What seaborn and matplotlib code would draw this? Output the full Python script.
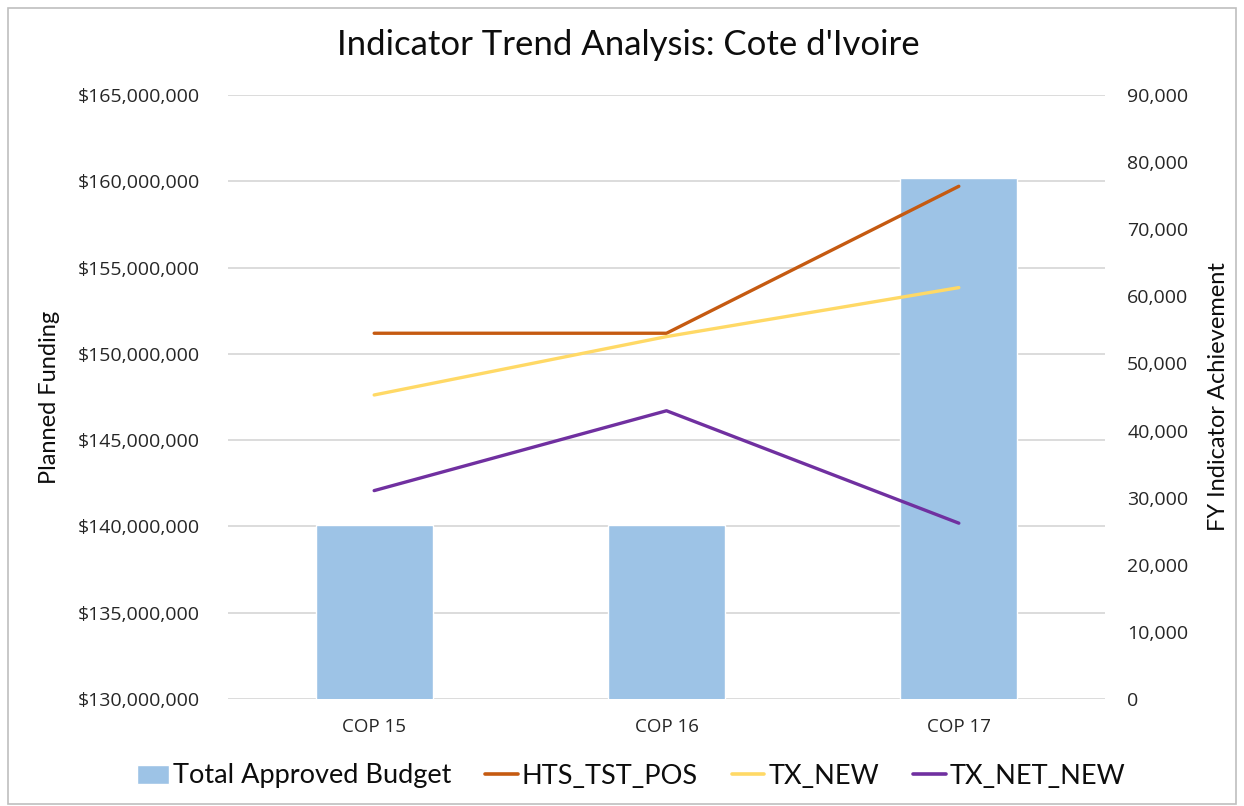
import matplotlib
matplotlib.use("Agg")
import matplotlib.pyplot as plt
import seaborn as sns
import pandas as pd
from matplotlib.ticker import FuncFormatter, MultipleLocator
from matplotlib.patches import Rectangle
from matplotlib.lines import Line2D

categories = ["COP 15", "COP 16", "COP 17"]
budget = [140_100_000, 140_100_000, 160_170_000]
hts_tst_pos = [54_500, 54_500, 76_400]
tx_new = [45_300, 54_000, 61_300]
tx_net_new = [31_050, 42_950, 26_200]

sns.set_style("white")
plt.rcParams['font.family'] = ['Lato', 'DejaVu Sans']

fig = plt.figure(figsize=(12.44, 8.06), dpi=100)
ax = fig.add_axes([228/1244, 1-699/806, (1105-228)/1244, (699-95)/806])
ax2 = ax.twinx()

df = pd.DataFrame({"cat": categories, "budget": budget})
sns.barplot(data=df, x="cat", y="budget", ax=ax, color="#9DC3E6", width=0.4,
            saturation=1, zorder=2)
ax.set_ylim(130_000_000, 165_000_000)
ax.yaxis.set_major_locator(MultipleLocator(5_000_000))
ax.yaxis.set_major_formatter(FuncFormatter(lambda v, p: f"${v:,.0f}"))
ax.grid(axis="y", color="#D9D9D9", linewidth=1.3, zorder=0)
ax.set_axisbelow(True)
ax.set_xlim(-0.5, 2.5)

xpos = list(range(len(categories)))
line_df = pd.DataFrame({
    "x": xpos * 3,
    "val": hts_tst_pos + tx_new + tx_net_new,
    "series": ["HTS_TST_POS"] * 3 + ["TX_NEW"] * 3 + ["TX_NET_NEW"] * 3,
})
palette = {"HTS_TST_POS": "#C55A11", "TX_NEW": "#FFD966", "TX_NET_NEW": "#7030A0"}
sns.lineplot(data=line_df, x="x", y="val", hue="series", palette=palette, ax=ax2,
             linewidth=2.4, legend=False, sort=False)
ax2.set_ylim(0, 90_000)
ax2.yaxis.set_major_locator(MultipleLocator(10_000))
ax2.yaxis.set_major_formatter(FuncFormatter(lambda v, p: f"{v:,.0f}"))
ax2.set_xlim(-0.5, 2.5)

for a in (ax, ax2):
    for s in a.spines.values():
        s.set_visible(False)
    a.tick_params(length=0)

tick_fam = ['Open Sans', 'DejaVu Sans']
ax.set_xticks(xpos)
ax.set_xticklabels(categories, fontdict=dict(family=tick_fam, size=13.5, color="#262626"))
ax.tick_params(axis="x", pad=14)
for lbl in ax.get_yticklabels() + ax2.get_yticklabels():
    lbl.set_fontfamily(tick_fam); lbl.set_fontsize(14); lbl.set_color("#262626")
ax.tick_params(axis="y", pad=20)
ax2.tick_params(axis="y", pad=16)

ax.set_xlabel("")
ax2.set_xlabel("")
ax.set_ylabel("Planned Funding", fontsize=17, color="#0D0D0D")
ax2.set_ylabel("FY Indicator Achievement", fontsize=17, color="#0D0D0D", rotation=90)
ax.yaxis.set_label_coords((60-228)/877, 0.5)
ax2.yaxis.set_label_coords((1208-228)/877, 0.5)

fig.text(628/1244, 1-45/806, "Indicator Trend Analysis: Cote d'Ivoire", ha="center",
         va="center", fontsize=25, color="#0D0D0D")

handles = [
    Rectangle((0, 0), 1, 1, facecolor="#9DC3E6"),
    Line2D([], [], color="#C55A11", linewidth=2.6),
    Line2D([], [], color="#FFD966", linewidth=2.6),
    Line2D([], [], color="#7030A0", linewidth=2.6),
]
labels = ["Total Approved Budget", "HTS_TST_POS", "TX_NEW", "TX_NET_NEW"]
fig.legend(handles, labels, loc="center", bbox_to_anchor=(631/1244, 1-776/806), ncol=4,
           frameon=False, fontsize=19.5, handlelength=1.2, handletextpad=0.15,
           columnspacing=1.25, labelcolor="#0D0D0D")

fig.patches.append(Rectangle((8/1244, 0.002), 1 - 16/1244, 1 - 8/806 - 0.002,
                             transform=fig.transFigure, fill=False,
                             edgecolor="#BFBFBF", linewidth=1.2))

fig.savefig("out.png", dpi=100)
